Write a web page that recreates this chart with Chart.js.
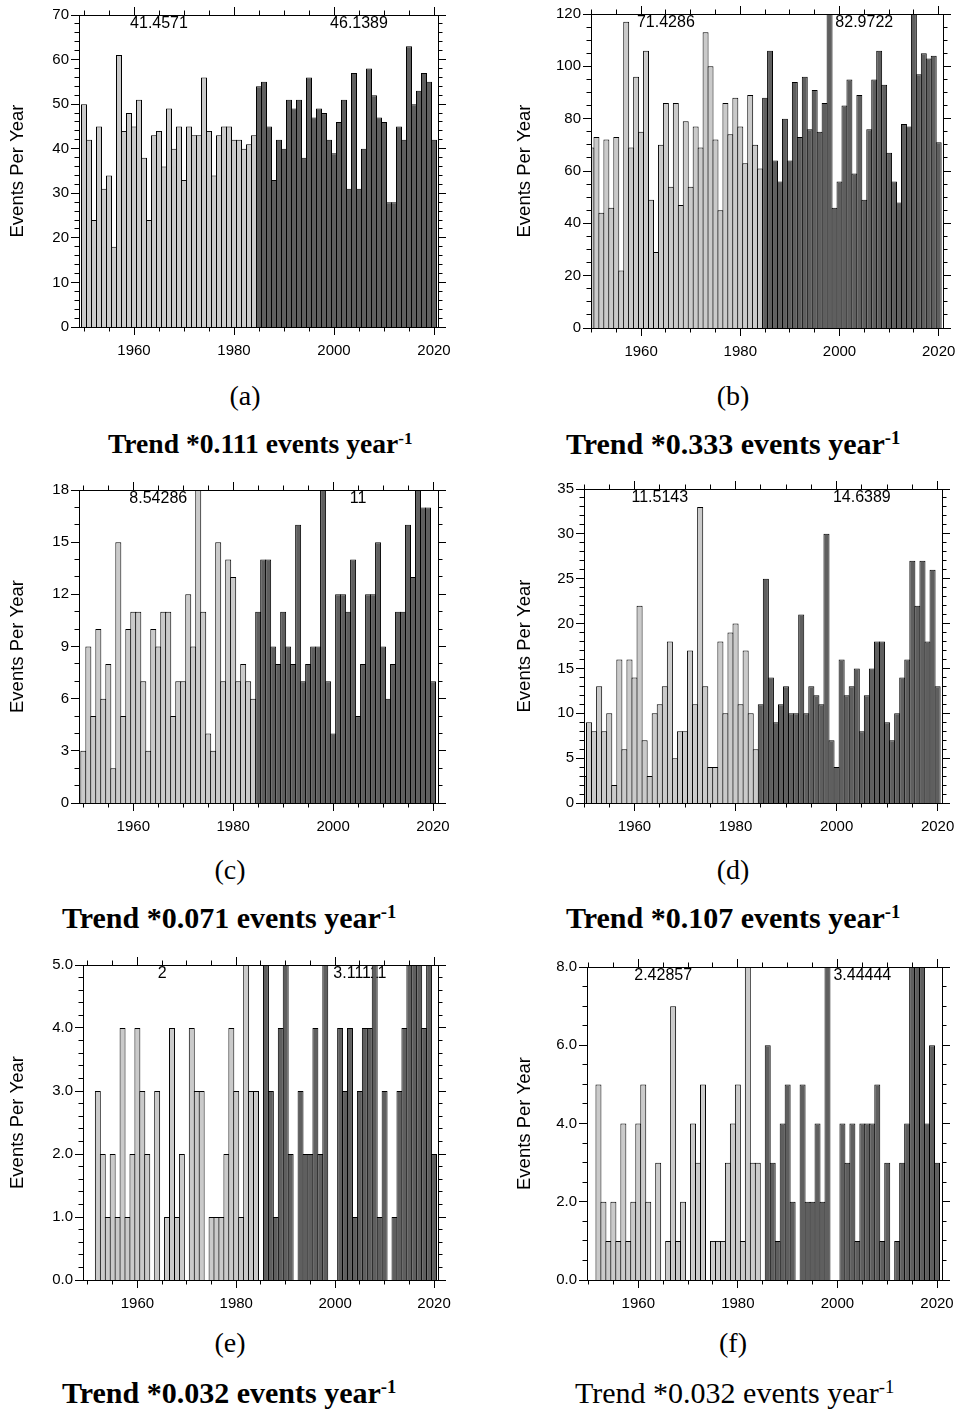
<!DOCTYPE html>
<html>
<head>
<meta charset="utf-8">
<title>Events per year</title>
<script src="https://cdn.jsdelivr.net/npm/chart.js@4.4.1/dist/chart.umd.min.js"></script>
<style>
    body { margin: 0; background: #fff; width: 957px; height: 1411px; position: relative; overflow: hidden; }
    .panel { position: absolute; }
    .tag { position: absolute; font-family: 'Liberation Serif', 'Times New Roman', serif; font-size: 28px; line-height: 1; transform: translateX(-50%); }
    .trend { position: absolute; font-family: 'Liberation Serif', 'Times New Roman', serif; font-weight: bold; font-size: 30px; line-height: 1; white-space: nowrap; }
    .trend sup { font-size: 0.62em; vertical-align: 0.55em; line-height: 0; }
</style>
</head>
<body>

<div class="panel" id="boxA"><canvas id="chartA"></canvas></div>
<div class="panel" id="boxB"><canvas id="chartB"></canvas></div>
<div class="panel" id="boxC"><canvas id="chartC"></canvas></div>
<div class="panel" id="boxD"><canvas id="chartD"></canvas></div>
<div class="panel" id="boxE"><canvas id="chartE"></canvas></div>
<div class="panel" id="boxF"><canvas id="chartF"></canvas></div>

<div class="tag" style="left:245px; top:382px;">(a)</div>
<div class="tag" style="left:733px; top:382px;">(b)</div>
<div class="tag" style="left:230px; top:856px;">(c)</div>
<div class="tag" style="left:733px; top:856px;">(d)</div>
<div class="tag" style="left:230px; top:1329px;">(e)</div>
<div class="tag" style="left:733px; top:1329px;">(f)</div>

<div class="trend" id="trendA" style="left:108px; top:430px; font-size:27.6px;"></div>
<div class="trend" id="trendB" style="left:566px; top:429px;"></div>
<div class="trend" id="trendC" style="left:62px; top:903px;"></div>
<div class="trend" id="trendD" style="left:566px; top:903px;"></div>
<div class="trend" id="trendE" style="left:62px; top:1378px;"></div>
<div class="trend" id="trendF" style="left:575px; top:1378px; font-weight:normal;"></div>

<script>
// years on the x axis, first half (light bars) runs up to 1984
const years = [1950, 1951, 1952, 1953, 1954, 1955, 1956, 1957, 1958, 1959,
               1960, 1961, 1962, 1963, 1964, 1965, 1966, 1967, 1968, 1969,
               1970, 1971, 1972, 1973, 1974, 1975, 1976, 1977, 1978, 1979,
               1980, 1981, 1982, 1983, 1984, 1985, 1986, 1987, 1988, 1989,
               1990, 1991, 1992, 1993, 1994, 1995, 1996, 1997, 1998, 1999,
               2000, 2001, 2002, 2003, 2004, 2005, 2006, 2007, 2008, 2009,
               2010, 2011, 2012, 2013, 2014, 2015, 2016, 2017, 2018, 2019, 2020];
const splitYear = 1985;
const xLabelYears = [1960, 1980, 2000, 2020];
const meanYears = [1965, 2005];

const eventsA = [50, 42, 24, 45, 31, 34, 18, 61, 44, 48, 45, 51, 38, 24, 43, 44, 36, 49, 40, 45,
                 33, 45, 43, 43, 56, 44, 34, 43, 45, 45, 42, 42, 40, 41, 43,
                 54, 55, 45, 33, 42, 40, 51, 49, 51, 38, 56, 47, 49, 48, 42, 39, 46, 51, 31, 57,
                 31, 40, 58, 52, 47, 46, 28, 28, 45, 42, 63, 50, 53, 57, 55, 42];
const eventsB = [69, 73, 44, 72, 46, 73, 22, 117, 69, 96, 75, 106, 49, 29, 70, 86, 54, 86, 47, 79,
                 54, 77, 69, 113, 100, 72, 45, 86, 74, 88, 77, 63, 89, 70, 61,
                 88, 106, 64, 56, 80, 64, 94, 73, 96, 76, 91, 75, 86, 141, 46, 56, 85, 95, 59, 89,
                 49, 76, 95, 106, 93, 67, 56, 48, 78, 77, 142, 97, 105, 103, 104, 71];
const eventsC = [3, 9, 5, 10, 6, 8, 2, 15, 5, 10, 11, 11, 7, 3, 10, 9, 11, 11, 5, 7,
                 7, 12, 9, 18, 11, 4, 3, 15, 7, 14, 13, 7, 8, 7, 6,
                 11, 14, 14, 9, 8, 11, 9, 8, 16, 7, 8, 9, 9, 18, 7, 4, 12, 12, 11, 14,
                 5, 8, 12, 12, 15, 9, 6, 8, 11, 11, 16, 13, 18, 17, 17, 7];
const eventsD = [3, 9, 8, 13, 8, 10, 2, 16, 6, 16, 14, 22, 7, 3, 10, 11, 13, 18, 5, 8,
                 8, 17, 11, 33, 13, 4, 4, 18, 10, 19, 20, 11, 17, 10, 6,
                 11, 25, 14, 9, 11, 13, 10, 10, 21, 10, 13, 12, 11, 30, 7, 4, 16, 12, 13, 15,
                 8, 12, 15, 18, 18, 9, 7, 10, 14, 16, 27, 22, 27, 18, 26, 13];
const eventsE = [0, 0, 3, 2, 1, 2, 1, 4, 1, 2, 4, 3, 2, 0, 3, 0, 1, 4, 1, 2,
                 0, 4, 3, 3, 0, 1, 1, 1, 2, 4, 3, 1, 5, 3, 3,
                 0, 6, 3, 1, 4, 6, 2, 0, 3, 2, 2, 4, 2, 7, 0, 0, 4, 3, 4, 1,
                 3, 4, 4, 6, 1, 3, 0, 1, 3, 4, 6, 7, 5, 4, 5, 2];
const eventsF = [0, 0, 5, 2, 1, 2, 1, 4, 1, 2, 4, 5, 2, 0, 3, 0, 1, 7, 1, 2,
                 0, 4, 3, 5, 0, 1, 1, 1, 3, 4, 5, 1, 8, 3, 3,
                 0, 6, 3, 1, 4, 5, 2, 0, 5, 2, 2, 4, 2, 8, 0, 0, 4, 3, 4, 1,
                 4, 4, 4, 5, 1, 3, 0, 1, 3, 4, 9, 9, 8, 4, 6, 3];

// period means printed at the top of each panel
const meansA = ['41.4571', '46.1389'];
const meansB = ['71.4286', '82.9722'];
const meansC = ['8.54286', '11'];
const meansD = ['11.5143', '14.6389'];
const meansE = ['2', '3.11111'];
const meansF = ['2.42857', '3.44444'];

const trendA = '0.111';
const trendB = '0.333';
const trendC = '0.071';
const trendD = '0.107';
const trendE = '0.032';
const trendF = '0.032';

const LIGHT = '#cacaca';
const DARK = '#5f5f5f';
const FONT = "'Liberation Sans', Arial, Helvetica, sans-serif";

Chart.defaults.font.family = FONT;
Chart.defaults.color = '#000';

function range(from, to, step) {
    const out = [];
    for (let v = from; v <= to + 1e-9; v += step) out.push(Math.round(v * 1000) / 1000);
    return out;
}

// box outline plus major/minor tick marks on all four sides (NCL style)
const frameTicks = {
    id: 'frameTicks',
    afterDatasetsDraw(chart, args, opts) {
        const { ctx, chartArea, scales } = chart;
        const { left, right, top, bottom } = chartArea;
        ctx.save();
        ctx.strokeStyle = '#000';
        ctx.lineWidth = 1;
        ctx.beginPath();
        opts.xMinor.forEach(v => {
            const px = Math.floor(scales.x.getPixelForValue(v)) + 0.5;
            const len = opts.xMajor.includes(v) ? 8 : 4.5;
            ctx.moveTo(px, bottom); ctx.lineTo(px, bottom + len);
            ctx.moveTo(px, top); ctx.lineTo(px, top - len);
        });
        opts.yMinor.forEach(v => {
            const py = Math.floor(scales.y.getPixelForValue(v)) + 0.5;
            const len = opts.yMajor.some(m => Math.abs(m - v) < 1e-6) ? 8 : 4.5;
            ctx.moveTo(left, py); ctx.lineTo(left - len, py);
            ctx.moveTo(right, py); ctx.lineTo(right + len, py);
        });
        ctx.stroke();
        ctx.strokeRect(Math.floor(left) + 0.5, Math.floor(top) + 0.5,
                       Math.round(right - left), Math.round(bottom - top));
        ctx.restore();
    }
};

const meanLabels = {
    id: 'meanLabels',
    beforeDatasetsDraw(chart, args, opts) {
        const { ctx, chartArea, scales } = chart;
        ctx.save();
        ctx.font = '16px ' + FONT;
        ctx.fillStyle = '#000';
        ctx.textAlign = 'center';
        ctx.textBaseline = 'top';
        opts.texts.forEach((t, i) => {
            ctx.fillText(t, scales.x.getPixelForValue(meanYears[i]), chartArea.top + 1);
        });
        ctx.restore();
    }
};

Chart.register(frameTicks, meanLabels);

function makePanel(id, values, means, yAxis, box) {
    const cl = box.tx - 12;
    const ct = box.pt - 12;
    const holder = document.getElementById('box' + id);
    const canvas = document.getElementById('chart' + id);
    canvas.width = box.pr - cl + 14;
    canvas.height = box.pb - ct + 40;
    holder.style.left = cl + 'px';
    holder.style.top = ct + 'px';

    const points = years.map((yr, i) => ({ x: yr, y: values[i] }));
    const colors = years.map(yr => yr < splitYear ? LIGHT : DARK);

    return new Chart(canvas, {
        type: 'bar',
        data: {
            datasets: [{
                data: points,
                backgroundColor: colors,
                borderColor: '#000',
                borderWidth: 1,
                barPercentage: 1.2,
                categoryPercentage: 1
            }]
        },
        options: {
            responsive: false,
            animation: false,
            layout: { padding: { left: 0, top: 12, right: 14, bottom: 0 } },
            plugins: {
                legend: { display: false },
                tooltip: { enabled: false },
                frameTicks: {
                    xMajor: xLabelYears,
                    xMinor: range(1950, 2020, 5),
                    yMajor: range(0, yAxis.max, yAxis.step),
                    yMinor: range(0, yAxis.max, yAxis.minor)
                },
                meanLabels: { texts: means }
            },
            scales: {
                x: {
                    type: 'linear',
                    offset: false,
                    min: box.xmin,
                    max: box.xmax,
                    grid: { display: false, drawTicks: false, offset: false },
                    border: { display: false },
                    afterBuildTicks: s => { s.ticks = xLabelYears.map(v => ({ value: v })); },
                    afterFit: s => {
                        s.height = 40;
                        s.paddingLeft = 0;
                        s.paddingRight = 0;
                    },
                    ticks: {
                        padding: 15,
                        autoSkip: false,
                        maxRotation: 0,
                        font: { size: 15 },
                        callback: v => String(v)
                    }
                },
                y: {
                    min: 0,
                    max: yAxis.max,
                    grid: { display: false, drawTicks: false },
                    border: { display: false },
                    afterFit: s => {
                        s.width = box.pl - cl;
                        s.paddingTop = 0;
                        s.paddingBottom = 0;
                    },
                    ticks: {
                        stepSize: yAxis.step,
                        padding: 10,
                        font: { size: 15 },
                        callback: v => v.toFixed(yAxis.digits)
                    },
                    title: {
                        display: true,
                        text: 'Events Per Year',
                        font: { size: 18.5 },
                        padding: { top: 1, bottom: 0 }
                    }
                }
            }
        }
    });
}

makePanel('A', eventsA, meansA, { max: 70, step: 10, minor: 2, digits: 0 },
          { pl: 79, pr: 438, pt: 15, pb: 327, tx: 18, xmin: 1949.0, xmax: 2020.8 });
makePanel('B', eventsB, meansB, { max: 120, step: 20, minor: 5, digits: 0 },
          { pl: 591, pr: 943, pt: 14, pb: 328, tx: 525, xmin: 1949.9, xmax: 2020.87 });
makePanel('C', eventsC, meansC, { max: 18, step: 3, minor: 1, digits: 0 },
          { pl: 79, pr: 438, pt: 490, pb: 803, tx: 18, xmin: 1949.13, xmax: 2021.0 });
makePanel('D', eventsD, meansD, { max: 35, step: 5, minor: 1, digits: 0 },
          { pl: 584, pr: 942, pt: 489, pb: 803, tx: 525, xmin: 1950.0, xmax: 2020.87 });
makePanel('E', eventsE, meansE, { max: 5, step: 1, minor: 0.2, digits: 1 },
          { pl: 83, pr: 438, pt: 965, pb: 1280, tx: 18, xmin: 1949.0, xmax: 2020.8 });
makePanel('F', eventsF, meansF, { max: 8, step: 2, minor: 0.5, digits: 1 },
          { pl: 587, pr: 942, pt: 967, pb: 1280, tx: 525, xmin: 1949.7, xmax: 2021.0 });

function setTrend(id, value) {
    document.getElementById(id).innerHTML = 'Trend *' + value + ' events year<sup>-1</sup>';
}
setTrend('trendA', trendA);
setTrend('trendB', trendB);
setTrend('trendC', trendC);
setTrend('trendD', trendD);
setTrend('trendE', trendE);
setTrend('trendF', trendF);
</script>
</body>
</html>
